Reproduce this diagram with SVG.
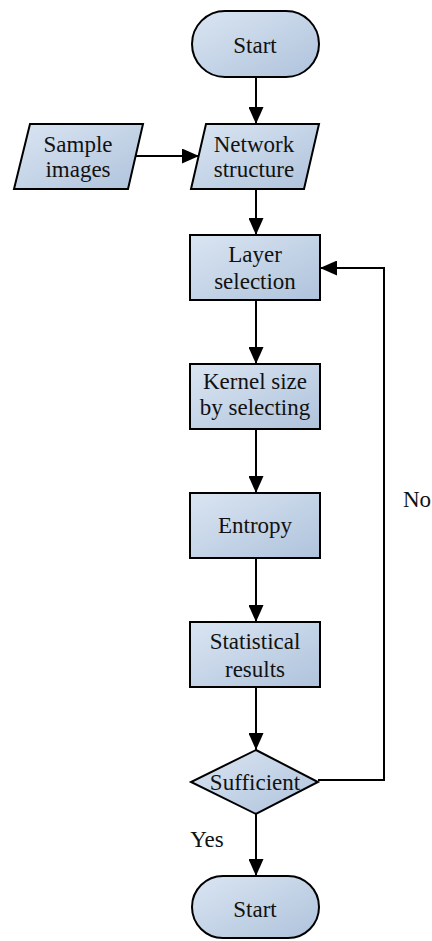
<svg xmlns="http://www.w3.org/2000/svg" width="432" height="941" viewBox="0 0 432 941">
<style>
.s{stroke:#000;stroke-width:2;fill:url(#g)}
.t{font-family:'Liberation Serif','Times New Roman',serif;font-size:23px;fill:#111;text-anchor:middle}
.c{stroke:#000;stroke-width:2;fill:none}
</style>
<defs>
<linearGradient id="g" x1="0" y1="0" x2="1" y2="1">
<stop offset="0" stop-color="#dae5f2"/>
<stop offset="1" stop-color="#afc3dc"/>
</linearGradient>
<marker id="a" markerWidth="17" markerHeight="15" refX="17" refY="7.5" orient="auto" markerUnits="userSpaceOnUse">
<path d="M0,0 L17,7.5 L0,15 Z" fill="#000"/>
</marker>
</defs>
<g id="connectors">
<path class="c" d="M256,77 V124" marker-end="url(#a)"/>
<path class="c" d="M135,156 H199" marker-end="url(#a)"/>
<path class="c" d="M256,189 V235" marker-end="url(#a)"/>
<path class="c" d="M256,300 V364" marker-end="url(#a)"/>
<path class="c" d="M256,429 V493" marker-end="url(#a)"/>
<path class="c" d="M256,558 V622" marker-end="url(#a)"/>
<path class="c" d="M256,687 V750" marker-end="url(#a)"/>
<path class="c" d="M256,814 V876" marker-end="url(#a)"/>
<path class="c" d="M318,780 H384 V268 H320" marker-end="url(#a)"/>
<text class="t" x="417" y="507">No</text>
<text class="t" x="207" y="847">Yes</text>
</g>
<g id="start1">
<rect class="s" x="192" y="11" width="127" height="66" rx="33"/>
<text class="t" x="255" y="53">Start</text>
</g>
<g id="sample">
<polygon class="s" points="30,124 143,124 128,189 14,189"/>
<text class="t" x="78" y="152">Sample</text>
<text class="t" x="78" y="177">images</text>
</g>
<g id="network">
<polygon class="s" points="206,124 319,124 304,189 191,189"/>
<text class="t" x="254" y="152">Network</text>
<text class="t" x="254" y="177">structure</text>
</g>
<g id="layer">
<rect class="s" x="190" y="235" width="130" height="65"/>
<text class="t" x="255" y="262">Layer</text>
<text class="t" x="255" y="289">selection</text>
</g>
<g id="kernel">
<rect class="s" x="190" y="364" width="130" height="65"/>
<text class="t" x="255" y="389">Kernel size</text>
<text class="t" x="255" y="415">by selecting</text>
</g>
<g id="entropy">
<rect class="s" x="190" y="493" width="130" height="65"/>
<text class="t" x="255" y="533">Entropy</text>
</g>
<g id="statistical">
<rect class="s" x="190" y="622" width="130" height="65"/>
<text class="t" x="255" y="649">Statistical</text>
<text class="t" x="255" y="677">results</text>
</g>
<g id="sufficient">
<polygon class="s" points="256,750 318,782 256,814 191,782"/>
<text class="t" x="255" y="790">Sufficient</text>
</g>
<g id="start2">
<rect class="s" x="192" y="876" width="127" height="62" rx="31"/>
<text class="t" x="255" y="917">Start</text>
</g>
</svg>
